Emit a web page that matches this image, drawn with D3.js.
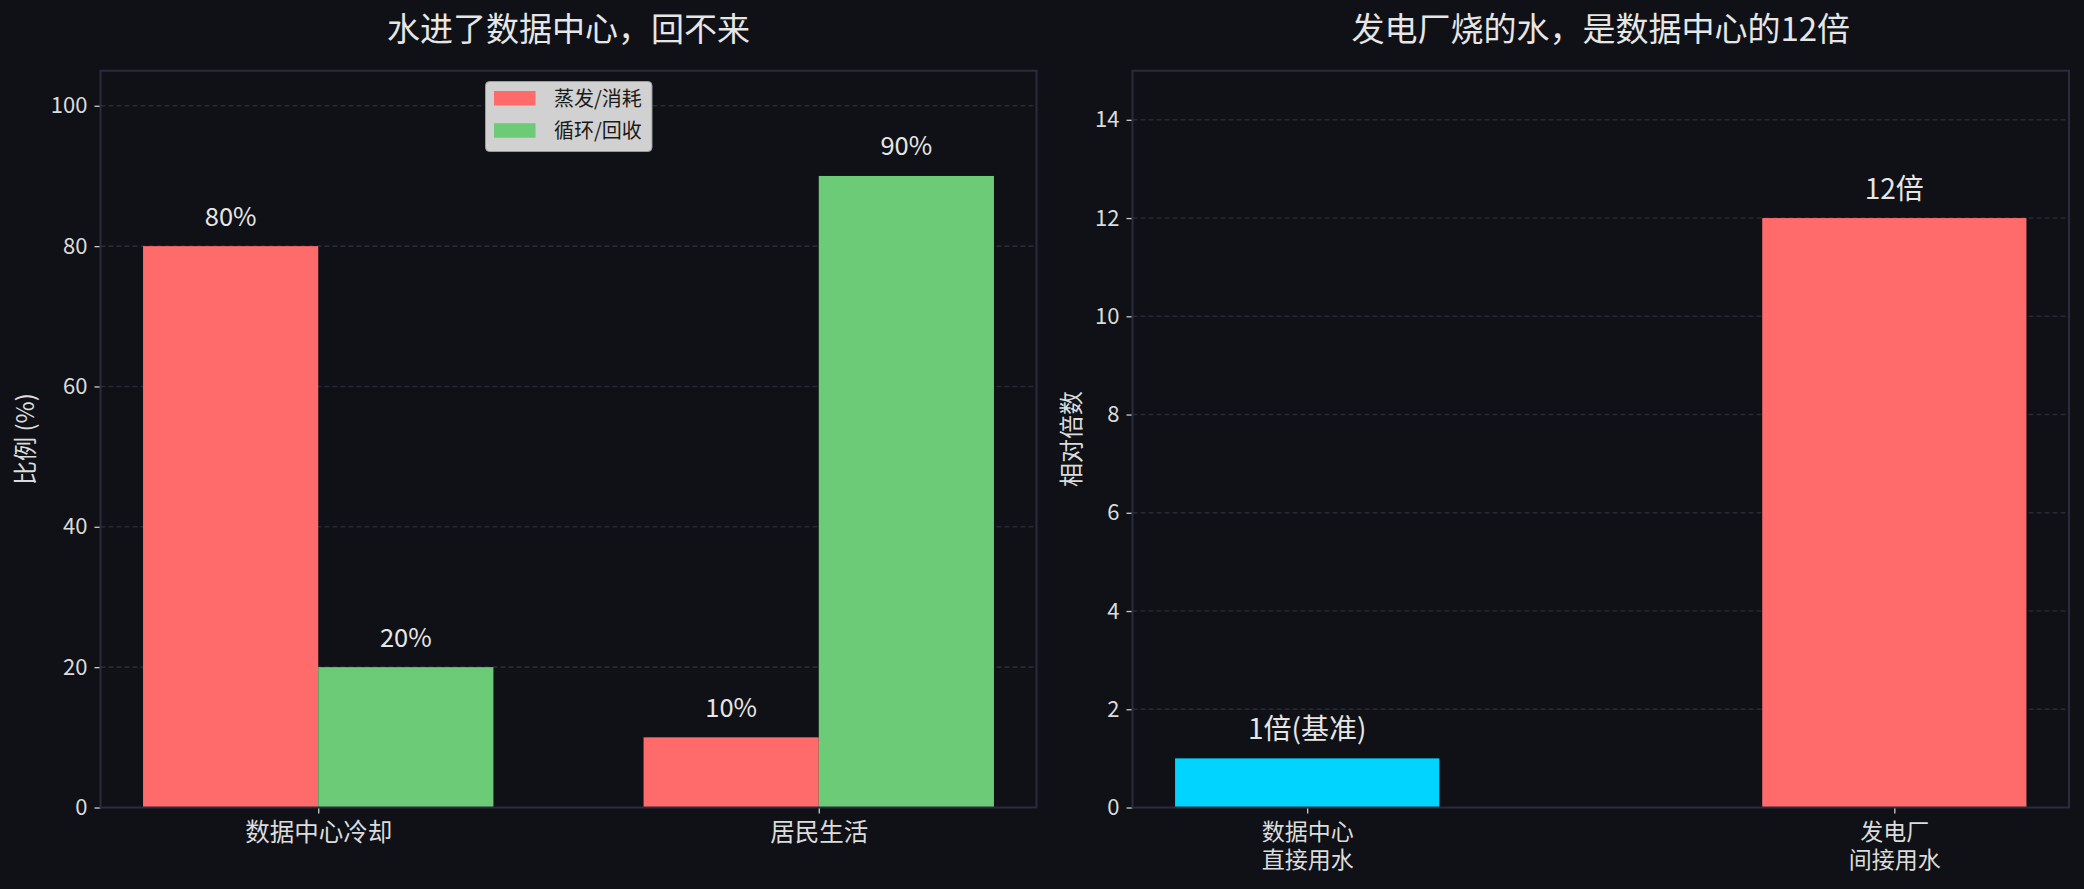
<!DOCTYPE html>
<html>
<head>
<meta charset="utf-8">
<script src="https://cdn.jsdelivr.net/npm/d3@7/dist/d3.min.js"></script>
<style>
  html, body { margin: 0; padding: 0; background: #0f1117; }
  svg { display: block; }
  text { font-family: "Noto Sans CJK SC", "Noto Sans", sans-serif; }
</style>
</head>
<body>
<svg id="chart" width="2084" height="889"></svg>
<script>
// left panel: where the water goes
var leftCategories = ["数据中心冷却", "居民生活"];
var seriesNames = ["蒸发/消耗", "循环/回收"];
var evaporated = [80, 10];
var recycled = [20, 90];
var leftTicks = [0, 20, 40, 60, 80, 100];

// right panel: relative water use
var rightCategories = [["数据中心", "直接用水"], ["发电厂", "间接用水"]];
var multiples = [1, 12];
var multipleLabels = ["1倍(基准)", "12倍"];
var rightTicks = [0, 2, 4, 6, 8, 10, 12, 14];

var bg = "#0f1117",
    spine = "#2b2b3b",
    gridColor = "#272a35",
    textColor = "#dcdcdc",
    red = "#ff6b6b",
    green = "#6bcb77",
    cyan = "#00d4ff";

var svg = d3.select("#chart");
svg.append("rect").attr("width", 2084).attr("height", 889).attr("fill", bg);

var top0 = 70.7, bottom0 = 807.5;

function drawFrame(g, x0, x1, yScale, ticks, title, ylabel, labelX) {
    // grid
    g.append("g").selectAll("line")
     .data(ticks.filter(function(t){ return t > 0; }))
     .enter().append("line")
     .attr("x1", x0).attr("x2", x1)
     .attr("y1", function(d){ return yScale(d); })
     .attr("y2", function(d){ return yScale(d); })
     .attr("stroke", gridColor)
     .attr("stroke-width", 1.6)
     .attr("stroke-dasharray", "5,3");

    // y axis
    var ax = g.append("g")
        .attr("transform", "translate(" + x0 + ",0)")
        .call(d3.axisLeft(yScale).tickValues(ticks).tickSize(6).tickPadding(7));
    ax.select(".domain").remove();
    ax.selectAll(".tick line").attr("stroke", "#cccccc").attr("stroke-width", 1.3);
    ax.selectAll(".tick text").attr("fill", textColor).attr("font-size", 22).attr("font-family", "Noto Sans CJK SC");

    // title
    g.append("text")
     .attr("x", (x0 + x1) / 2).attr("y", 41)
     .attr("text-anchor", "middle")
     .attr("fill", "#e6e6e6")
     .attr("font-size", 33)
     .text(title);

    // y label
    g.append("text")
     .attr("transform", "translate(" + labelX + "," + ((top0 + bottom0) / 2) + ") rotate(-90)")
     .attr("text-anchor", "middle")
     .attr("fill", textColor)
     .attr("font-size", 24)
     .text(ylabel);
}

function drawSpines(g, x0, x1) {
    g.append("rect")
     .attr("x", x0).attr("y", top0)
     .attr("width", x1 - x0).attr("height", bottom0 - top0)
     .attr("fill", "none")
     .attr("stroke", spine)
     .attr("stroke-width", 2);
}

// ---------- left chart ----------
var L = { x0: 100.5, x1: 1036.5 };
var xL = d3.scaleLinear().domain([-0.435, 1.435]).range([L.x0, L.x1]);
var yL = d3.scaleLinear().domain([0, 105]).range([bottom0, top0]);
var barW = 0.35;

var gl = svg.append("g");
drawFrame(gl, L.x0, L.x1, yL, leftTicks, "水进了数据中心，回不来", "比例 (%)", 34);

var series = [
    { name: seriesNames[0], values: evaporated, color: red, off: -barW / 2 },
    { name: seriesNames[1], values: recycled, color: green, off: barW / 2 }
];

series.forEach(function(s) {
    gl.append("g").selectAll("rect")
      .data(s.values)
      .enter().append("rect")
      .attr("x", function(d, i){ return xL(i + s.off - barW / 2); })
      .attr("y", function(d){ return yL(d); })
      .attr("width", xL(barW) - xL(0))
      .attr("height", function(d){ return yL(0) - yL(d); })
      .attr("fill", s.color);

    gl.append("g").selectAll("text")
      .data(s.values)
      .enter().append("text")
      .attr("x", function(d, i){ return xL(i + s.off); })
      .attr("y", function(d){ return yL(d + 2) - 6.5; })
      .attr("text-anchor", "middle")
      .attr("fill", "#e6e6e6")
      .attr("font-size", 25.5)
      .text(function(d){ return d + "%"; });
});

var axL = gl.append("g")
    .attr("transform", "translate(0," + bottom0 + ")")
    .call(d3.axisBottom(xL).tickValues([0, 1]).tickFormat(function(d){ return leftCategories[d]; }).tickSize(6).tickPadding(8));
axL.select(".domain").remove();
axL.selectAll(".tick line").attr("stroke", "#cccccc").attr("stroke-width", 1.3);
axL.selectAll(".tick text").attr("fill", textColor).attr("font-size", 24.5).attr("dy", 0).attr("y", 33);

drawSpines(gl, L.x0, L.x1);

// legend
var leg = gl.append("g").attr("transform", "translate(485.5,81.5)");
leg.append("rect")
   .attr("width", 166.5).attr("height", 70)
   .attr("rx", 4)
   .attr("fill", "#d1d1d1")
   .attr("stroke", "#9a9a9a")
   .attr("stroke-width", 1);
series.forEach(function(s, i) {
    leg.append("rect")
       .attr("x", 8.5).attr("y", 9.5 + i * 32.2)
       .attr("width", 41.5).attr("height", 14.5)
       .attr("fill", s.color);
    leg.append("text")
       .attr("x", 68.5).attr("y", 24.5 + i * 32.2)
       .attr("fill", "#1a1a1a")
       .attr("font-size", 20)
       .text(s.name);
});

// ---------- right chart ----------
var R = { x0: 1132.5, x1: 2069 };
var xR = d3.scaleLinear().domain([-0.2975, 1.2975]).range([R.x0, R.x1]);
var yR = d3.scaleLinear().domain([0, 15]).range([bottom0, top0]);
var barW2 = 0.45;
var rightColors = [cyan, red];

var gr = svg.append("g");
drawFrame(gr, R.x0, R.x1, yR, rightTicks, "发电厂烧的水，是数据中心的12倍", "相对倍数", 1080);

gr.append("g").selectAll("rect")
  .data(multiples)
  .enter().append("rect")
  .attr("x", function(d, i){ return xR(i - barW2 / 2); })
  .attr("y", function(d){ return yR(d); })
  .attr("width", xR(barW2) - xR(0))
  .attr("height", function(d){ return yR(0) - yR(d); })
  .attr("fill", function(d, i){ return rightColors[i]; });

gr.append("g").selectAll("text")
  .data(multiples)
  .enter().append("text")
  .attr("x", function(d, i){ return xR(i); })
  .attr("y", function(d){ return yR(d + 0.3) - 4.5; })
  .attr("text-anchor", "middle")
  .attr("fill", "#e6e6e6")
  .attr("font-size", 28)
  .text(function(d, i){ return multipleLabels[i]; });

// two-line category labels, one text element per line
var axR = gr.append("g")
    .attr("transform", "translate(0," + bottom0 + ")")
    .call(d3.axisBottom(xR).tickValues([0, 1]).tickFormat("").tickSize(6));
axR.select(".domain").remove();
axR.selectAll(".tick line").attr("stroke", "#cccccc").attr("stroke-width", 1.3);
axR.selectAll(".tick").each(function(d) {
    var tick = d3.select(this);
    rightCategories[d].forEach(function(line, k) {
        tick.append("text")
            .attr("fill", textColor)
            .attr("font-size", 23)
            .attr("text-anchor", "middle")
            .attr("x", 0).attr("y", 32 + k * 28.5)
            .text(line);
    });
});

drawSpines(gr, R.x0, R.x1);
</script>
</body>
</html>
